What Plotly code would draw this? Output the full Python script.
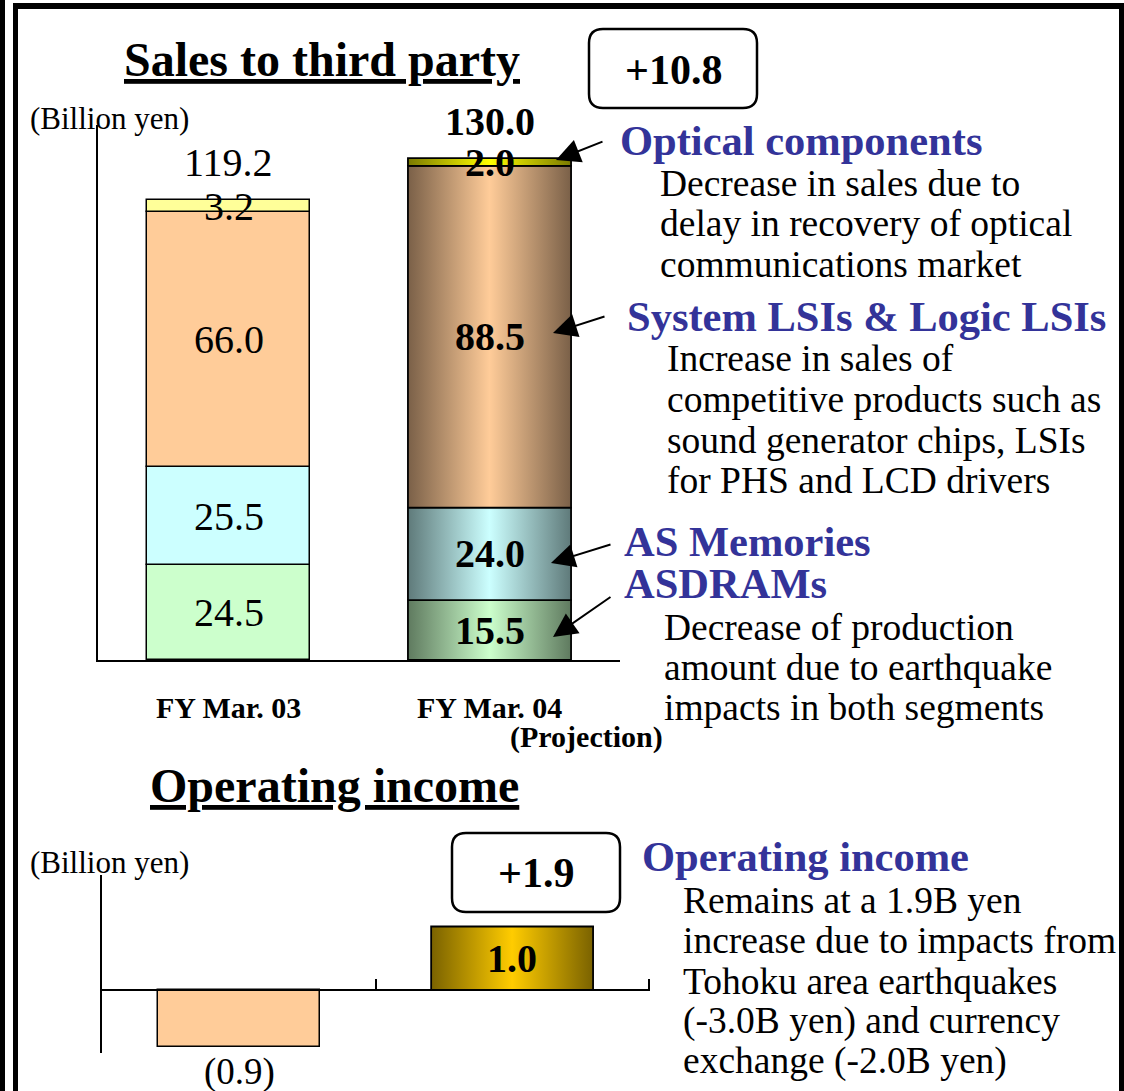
import plotly.graph_objects as go

W, H = 1124, 1091

# ---------------- data ----------------
periods = ["FY Mar. 03", "FY Mar. 04"]
segments = ["ASDRAMs", "AS Memories", "System LSIs & Logic LSIs", "Optical components"]
sales_fy03 = [24.5, 25.5, 66.0, 3.2]
sales_fy04 = [15.5, 24.0, 88.5, 2.0]
sales_totals = [119.2, 130.0]
sales_change = "+10.8"

op_income = [-0.9, 1.0]
op_labels = ["(0.9)", "1.0"]
op_change = "+1.9"

# styles
FONT = "Liberation Serif"
BLUE = "#333399"
fy03_colors = ["#CCFFCC", "#CCFFFF", "#FFCC99", "#FFFF99"]
fy04_grad = [("#5F7A5F", "#CCFFCC"), ("#5F7A7A", "#CCFFFF"),
             ("#7A6048", "#FFCC99"), ("#7A7A00", "#FFFF00")]
BAR_W1 = 0.625
BAR_W2 = 0.593

# axis geometry (pixels)
Y1_BASE, Y1_TOP, Y1_SCALE = 660, 125, 3.86
Y2_BASE, Y2_TOP, Y2_BOT, Y2_SCALE = 990, 875, 1053, 63.5


def px(x):
    return x / W


def py(y):
    return 1 - y / H


def y1_paper(v):
    return py(Y1_BASE - v * Y1_SCALE)


def y2_paper(v):
    return py(Y2_BASE - v * Y2_SCALE)


fig = go.Figure()

# ---------------- Chart 1: sales ----------------
for seg, val, col in zip(segments, sales_fy03, fy03_colors):
    fig.add_trace(go.Bar(x=[0], y=[val], width=BAR_W1, name=seg,
                         marker=dict(color=col, line=dict(color="black", width=1.5)),
                         xaxis="x", yaxis="y", showlegend=False, hoverinfo="skip"))

base = 0.0
for seg, val, (dark, light) in zip(segments, sales_fy04, fy04_grad):
    x0, x1 = 1 - BAR_W1 / 2, 1 + BAR_W1 / 2
    fig.add_trace(go.Scatter(
        x=[x0, x1, x1, x0, x0], y=[base, base, base + val, base + val, base],
        mode="lines", fill="toself",
        fillgradient=dict(type="horizontal",
                          colorscale=[[0, dark], [0.5, light], [1, dark]]),
        line=dict(color="black", width=1.8), name=seg,
        xaxis="x", yaxis="y", showlegend=False, hoverinfo="skip"))
    base += val

annotations = []


def ann(x, y, s, size, xref="paper", yref="paper", xanchor="center", color="black"):
    annotations.append(dict(x=x, y=y, xref=xref, yref=yref, text=s, showarrow=False,
                            xanchor=xanchor, yanchor="middle",
                            font=dict(family=FONT, size=size, color=color)))


# segment value labels (centered in each segment) and totals
for i, (vals, bold) in enumerate([(sales_fy03, False), (sales_fy04, True)]):
    cum = 0.0
    for v in vals:
        t = f"{v:.1f}"
        ann(i, y1_paper(cum + v / 2), f"<b>{t}</b>" if bold else t, 40, xref="x")
        cum += v
    tot = sales_totals[i]
    ann(i, y1_paper(tot + 9.6), f"<b>{tot:.1f}</b>" if bold else f"{tot:.1f}", 40, xref="x")

# category labels
ann(0, py(707), f"<b>{periods[0]}</b>", 30, xref="x")
ann(1, py(707), f"<b>{periods[1]}</b>", 30, xref="x")
ann(px(586), py(737), "<b>(Projection)</b>", 30)

# titles
ann(px(322), py(60), "<b><u>Sales to third party</u></b>", 48)
ann(px(334), py(785), "<b><u>Operating income</u></b>", 48)

# units
for yy in (119, 862):
    ann(px(28), py(yy), "(Billion yen)", 31, xanchor="left")

# change boxes
ann(px(673), py(70), f"<b>{sales_change}</b>", 42)
ann(px(536), py(873), f"<b>{op_change}</b>", 42)


def txt(x, y, s, bold=False, color="black", size=37.5):
    ann(px(x), py(y), f"<b>{s}</b>" if bold else s, size, xanchor="left", color=color)


HS = 42.5
txt(618, 140, "Optical components", True, BLUE, HS)
txt(658, 183, "Decrease in sales due to")
txt(658, 223, "delay in recovery of optical")
txt(658, 264, "communications market")
txt(625, 316, "System LSIs &amp; Logic LSIs", True, BLUE, HS)
txt(665, 359, "Increase in sales of")
txt(665, 400, "competitive products such as")
txt(665, 440, "sound generator chips, LSIs")
txt(665, 481, "for PHS and LCD drivers")
txt(622, 541, "AS Memories", True, BLUE, HS)
txt(622, 583, "ASDRAMs", True, BLUE, HS)
txt(662, 627, "Decrease of production")
txt(662, 667, "amount due to earthquake")
txt(662, 707, "impacts in both segments")
txt(640, 856, "Operating income", True, BLUE, HS)
txt(681, 900, "Remains at a 1.9B yen")
txt(681, 940, "increase due to impacts from")
txt(681, 981, "Tohoku area earthquakes")
txt(681, 1021, "(-3.0B yen) and currency")
txt(681, 1061, "exchange (-2.0B yen)")

# arrows (tip <- tail)
for (tx, ty, fx, fy) in [(556, 160, 604, 141), (553, 333, 606, 316),
                         (551, 563, 612, 544), (553, 637, 612, 596)]:
    annotations.append(dict(x=px(tx), y=py(ty), xref="paper", yref="paper",
                            ax=fx - tx, ay=fy - ty, axref="pixel", ayref="pixel",
                            text="", showarrow=True, arrowhead=2, arrowsize=2.4,
                            arrowwidth=2, arrowcolor="black", standoff=0))

# ---------------- Chart 2: operating income ----------------
fig.add_trace(go.Bar(x=[0], y=[op_income[0]], width=BAR_W2,
                     marker=dict(color="#FFCC99", line=dict(color="black", width=1.5)),
                     xaxis="x2", yaxis="y2", showlegend=False, hoverinfo="skip"))
x0, x1 = 1 - BAR_W2 / 2, 1 + BAR_W2 / 2
fig.add_trace(go.Scatter(
    x=[x0, x1, x1, x0, x0], y=[0, 0, op_income[1], op_income[1], 0],
    mode="lines", fill="toself",
    fillgradient=dict(type="horizontal",
                      colorscale=[[0, "#7A6200"], [0.5, "#FFCC00"], [1, "#7A6200"]]),
    line=dict(color="black", width=1.8),
    xaxis="x2", yaxis="y2", showlegend=False, hoverinfo="skip"))

ann(0, y2_paper(op_income[0] - 0.39), op_labels[0], 37, xref="x2")
ann(1, y2_paper(op_income[1] / 2), f"<b>{op_labels[1]}</b>", 40, xref="x2")

# ---------------- shapes: frame and boxes ----------------
shapes = [
    dict(type="rect", xref="paper", yref="paper", x0=0, x1=px(5), y0=0, y1=1,
         fillcolor="black", line=dict(width=0)),
    dict(type="rect", xref="paper", yref="paper", x0=px(13), x1=px(18), y0=0, y1=py(3),
         fillcolor="black", line=dict(width=0)),
    dict(type="rect", xref="paper", yref="paper", x0=px(13), x1=1, y0=py(9), y1=py(3),
         fillcolor="black", line=dict(width=0)),
    dict(type="rect", xref="paper", yref="paper", x0=px(1119), x1=1, y0=0, y1=py(3),
         fillcolor="black", line=dict(width=0)),
]

for (xa, ya, xb, yb) in [(589, 29, 757, 108), (452, 833, 620, 912)]:
    r = 14
    xs, ys = px, py
    path = (f"M {xs(xa + r)},{ys(ya)} L {xs(xb - r)},{ys(ya)} Q {xs(xb)},{ys(ya)} {xs(xb)},{ys(ya + r)} "
            f"L {xs(xb)},{ys(yb - r)} Q {xs(xb)},{ys(yb)} {xs(xb - r)},{ys(yb)} L {xs(xa + r)},{ys(yb)} "
            f"Q {xs(xa)},{ys(yb)} {xs(xa)},{ys(yb - r)} L {xs(xa)},{ys(ya + r)} Q {xs(xa)},{ys(ya)} {xs(xa + r)},{ys(ya)} Z")
    shapes.append(dict(type="path", xref="paper", yref="paper", path=path,
                       line=dict(color="black", width=2.5), fillcolor="rgba(0,0,0,0)"))

fig.update_layout(
    width=W, height=H, margin=dict(l=0, r=0, t=0, b=0),
    paper_bgcolor="white", plot_bgcolor="rgba(0,0,0,0)",
    barmode="relative", bargap=0,
    showlegend=False,
    xaxis=dict(domain=[px(98), px(620)], range=[-0.5, 1.5], showgrid=False, zeroline=False,
               showticklabels=False, ticks="", showline=True, linecolor="black", linewidth=1.5,
               anchor="y", fixedrange=True),
    yaxis=dict(domain=[py(Y1_BASE), py(Y1_TOP)], range=[0, (Y1_BASE - Y1_TOP) / Y1_SCALE],
               showgrid=False, zeroline=False, showticklabels=False, ticks="", showline=True,
               linecolor="black", linewidth=1.5, anchor="x", fixedrange=True),
    xaxis2=dict(domain=[px(102), px(650)], range=[-0.502, 1.505], showgrid=False, zeroline=False,
                showticklabels=False, anchor="free", position=py(Y2_BASE),
                tickvals=[0.5, 1.5], ticks="inside", ticklen=10, tickwidth=1.5, tickcolor="black",
                showline=True, linecolor="black", linewidth=1.5, fixedrange=True),
    yaxis2=dict(domain=[py(Y2_BOT), py(Y2_TOP)],
                range=[-(Y2_BOT - Y2_BASE) / Y2_SCALE, (Y2_BASE - Y2_TOP) / Y2_SCALE],
                showgrid=False, zeroline=False, showticklabels=False, ticks="",
                showline=True, linecolor="black", linewidth=1.5, anchor="x2", fixedrange=True),
    annotations=annotations,
    shapes=shapes,
)

fig.write_html("out.html", config={"displayModeBar": False},
               post_script="document.body.style.margin='0px';document.body.style.overflow='hidden';")
